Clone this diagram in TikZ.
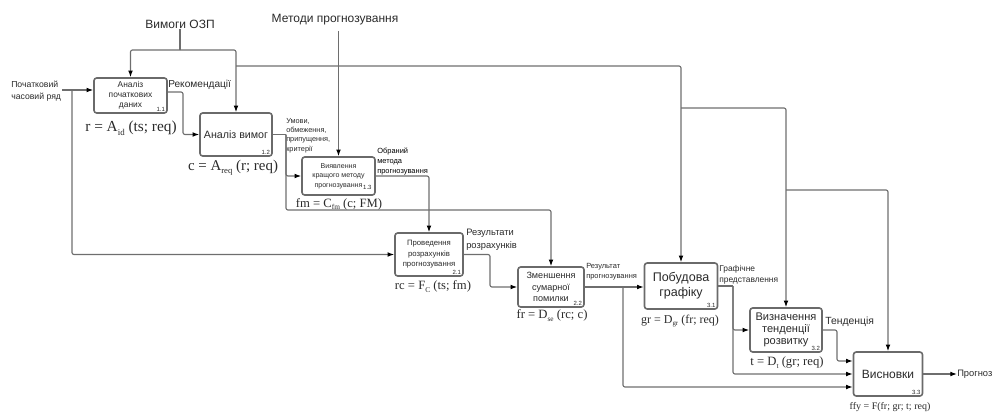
\documentclass[tikz,border=0pt]{standalone}
\usepackage{fontspec}
\setmainfont{Liberation Sans}
\newfontfamily\tnr{Liberation Serif}
\usetikzlibrary{arrows.meta,calc}
\newcommand{\fsz}[2]{\fontsize{#1}{#2}\selectfont}
\newcommand{\sbs}[1]{\raisebox{-0.5ex}{\scalebox{0.58}{#1}}}
\definecolor{boxc}{HTML}{6A6A6A}
\definecolor{linec}{HTML}{6E6E6E}
\definecolor{txt}{HTML}{2A2A2A}
\begin{document}
\begin{tikzpicture}[x=0.75pt,y=-0.75pt,
  box/.style={draw=boxc, line width=1.2pt, rounded corners=2pt, fill=white, inner sep=0pt, align=center, text=txt},
  conn/.style={draw=linec, line width=0.85pt, rounded corners=1.5pt},
  arr/.style={conn, -{Latex[length=5pt,width=3.6pt,black]}},
  lbl/.style={text=txt, inner sep=0pt, align=left},
  frm/.style={text=txt, inner sep=0pt},
  num/.style={font=\fsz{4.5}{5}, text=txt, inner sep=0pt, anchor=south east},
]
\useasboundingbox (0,0) rectangle (1006,412);

% boxes
\node[box, minimum width=54.75pt, minimum height=26.25pt, font=\fsz{6.3}{7.3}] (b11) at (130.5,95.5) {Аналіз\\початкових\\даних};
\node[box, minimum width=54pt, minimum height=32.25pt, font=\fsz{8}{9}] (b12) at (236,134.5) {Аналіз вимог};
\node[box, minimum width=54.75pt, minimum height=28.5pt, font=\fsz{5.3}{7}] (b13) at (338.5,176) {Виявлення\\кращого методу\\прогнозування\hspace{9pt}};
\node[box, minimum width=51pt, minimum height=32.25pt, font=\fsz{5.8}{7.9}] (b21) at (429,254.5) {Проведення\\розрахунків\\прогнозування};
\node[box, minimum width=49.5pt, minimum height=30pt, font=\fsz{6.8}{8.6}] (b22) at (551,287) {Зменшення\\сумарної\\помилки};
\node[box, minimum width=54.75pt, minimum height=34.5pt, font=\fsz{9.4}{11}] (b31) at (681,286) {Побудова\\графіку};
\node[box, minimum width=54pt, minimum height=33pt, font=\fsz{8.3}{8.8}] (b32) at (786,330) {Визначення\\тенденції\\розвитку};
\node[box, minimum width=51.75pt, minimum height=33pt, font=\fsz{9}{10}] (b33) at (888,374) {Висновки};

% box numbers
\node[num] (n11) at ($(b11.south east)+(-2pt,1.5pt)$) {1.1};
\node[num] (n12) at ($(b12.south east)+(-2pt,1.5pt)$) {1.2};
\node[num] (n13) at ($(b13.south east)+(-3pt,4.2pt)$) {1.3};
\node[num] (n21) at ($(b21.south east)+(-2pt,1.5pt)$) {2.1};
\node[num] (n22) at ($(b22.south east)+(-2pt,1.5pt)$) {2.2};
\node[num] (n31) at ($(b31.south east)+(-2pt,1.5pt)$) {3.1};
\node[num] (n32) at ($(b32.south east)+(-2pt,1.5pt)$) {3.2};
\node[num] (n33) at ($(b33.south east)+(-2pt,1.5pt)$) {3.3};

% external labels
\node[lbl, font=\fsz{9}{10}] (vim) at (180,24) {Вимоги ОЗП};
\node[lbl, font=\fsz{9}{10}, inner ysep=4pt] (met) at (335,20) {Методи прогнозування};
\node[lbl, anchor=west, font=\fsz{6.5}{9}] (tsl) at (11,91) {Початковий\\часовий ряд};
\node[lbl, anchor=west, font=\fsz{7.6}{9}] (lrec) at (168,85) {Рекомендації};
\node[lbl, anchor=north west, font=\fsz{5.5}{7}] (lcond) at (286,118) {Умови,\\обмеження,\\припущення,\\критерії};
\node[lbl, anchor=north west, font=\fsz{5.6}{7.5}, text=black] (lsel) at (377,148) {Обраний\\метода\\прогнозування};
\node[lbl, anchor=north west, font=\fsz{7}{9.5}] (lres) at (466,229) {Результати\\розрахунків};
\node[lbl, anchor=north west, font=\fsz{5.6}{7.5}] (lfr) at (586,263) {Результат\\прогнозування};
\node[lbl, anchor=north west, font=\fsz{6.3}{8}] (lgr) at (719,265) {Графічне\\представлення};
\node[lbl, anchor=west, font=\fsz{7.8}{9}] (ltr) at (825,322) {Тенденція};
\node[lbl, anchor=west, font=\fsz{7}{8}] (out) at (957,374) {Прогноз};

% formulas
\node[frm, font=\tnr\fsz{11.5}{13}] (f11) at (131,128) {r = A\sbs{id} (ts; req)};
\node[frm, font=\tnr\fsz{11.2}{13}] (f12) at (233,168) {c = A\sbs{req} (r; req)};
\node[frm, font=\tnr\fsz{9.5}{11}] (f13) at (339,204) {fm = C\sbs{fm} (c; FM)};
\node[frm, font=\tnr\fsz{9.5}{11}] (f21) at (433,287) {rc = F\sbs{C} (ts; fm)};
\node[frm, font=\tnr\fsz{9.5}{11}] (f22) at (552,316) {fr = D\sbs{se} (rc; c)};
\node[frm, font=\tnr\fsz{9}{11}] (f31) at (680,321) {gr = D\sbs{gr} (fr; req)};
\node[frm, font=\tnr\fsz{9.5}{11}] (f32) at (787,363) {t = D\sbs{t} (gr; req)};
\node[frm, font=\tnr\fsz{7.5}{9}] (f33) at (890,407) {ffy = F(fr; gr; t; req)};

% requirements
\coordinate (v1) at (180,50);
\draw[conn] (vim.south) -- (v1);
\draw[arr] (v1) -| (b11.north);
\draw[arr] (v1) -| (b12.north);
\coordinate (r1) at (b12.north |- 0,66);
\draw[arr] (r1) -| (b31.north);
\coordinate (r2) at (b31.north |- 0,108);
\draw[arr] (r2) -| (b32.north);
\coordinate (r3) at (b32.north |- 0,190);
\draw[arr] (r3) -| (b33.north);

% methods
\draw[arr] (b13.north |- met.south) -- (b13.north);

% input series
\coordinate (ts0) at (62,90);
\draw[arr] (ts0) -- (ts0 -| b11.west);
\coordinate (ts1) at (72,90);
\draw[arr] (ts1) |- (b21.west);

% 1.1 -> 1.2
\draw[arr] (b11.east |- 0,92) -- (183,92) |- (b12.west);

% 1.2 -> 1.3, 2.2
\coordinate (c1) at (b12.east -| 286,0);
\draw[conn] (b12.east) -- (c1);
\draw[arr] (c1) |- (b13.west);
\draw[arr] (c1) -- (286,210) -| (b22.north);

% 1.3 -> 2.1
\draw[arr] (b13.east) -| (b21.north);

% 2.1 -> 2.2
\draw[arr] (b21.east) -- (b21.east -| 490,0) |- (b22.west);

% 2.2 -> 3.1, 3.3
\draw[arr] (b22.east) -- (b22.east -| b31.west);
\coordinate (f1) at (b22.east -| 623,0);
\draw[arr] (f1) |- (b33.west |- 0,387);

% 3.1 -> 3.2, 3.3
\coordinate (g1) at (b31.east -| 733,0);
\draw[conn] (b31.east) -- (g1);
\draw[arr] (g1) |- (b32.west);
\draw[arr] (g1) |- (b33.west);

% 3.2 -> 3.3
\draw[arr] (b32.east) -- (b32.east -| 837,0) |- (b33.west |- 0,361);

% output
\draw[arr] (b33.east) -- (out.west);
\end{tikzpicture}
\end{document}
